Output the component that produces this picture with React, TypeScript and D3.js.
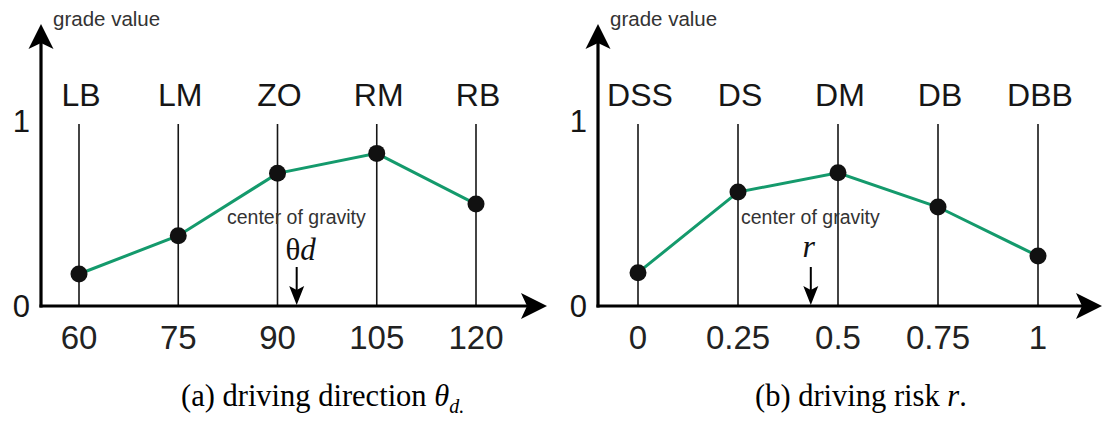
import React from "react";
import * as d3 from "d3";

// ---- data ----
const leftCategories = ["LB", "LM", "ZO", "RM", "RB"];
const leftTicks = [60, 75, 90, 105, 120];
const leftValues = [0.173, 0.38, 0.717, 0.825, 0.551];
const leftCentroid = 92.9;

const rightCategories = ["DSS", "DS", "DM", "DB", "DBB"];
const rightTicks = [0, 0.25, 0.5, 0.75, 1];
const rightTickLabels = ["0", "0.25", "0.5", "0.75", "1"];
const rightValues = [0.18, 0.616, 0.72, 0.535, 0.27];
const rightCentroid = 0.432;

const yTicks = [0, 1];

const SANS = "'Liberation Sans', Arial, sans-serif";
const SERIF = "'Liberation Serif', 'Times New Roman', serif";
const GREEN = "#149a6c";
const INK = "#161616";

type PanelProps = {
  axisX: number;
  axisEnd: number;
  xDomain: [number, number];
  xRange: [number, number];
  ticks: number[];
  tickLabels: string[];
  categories: string[];
  values: number[];
  centroid: number;
  centroidLabel: React.ReactNode;
  cogX: number;
  lineTop: number;
};

function Panel(p: PanelProps) {
  const x = d3.scaleLinear().domain(p.xDomain).range(p.xRange);
  const y = d3.scaleLinear().domain([0, 1]).range([306, 121]);
  const y0 = y(0);
  const pts = p.ticks.map((t, i) => [x(t), y(p.values[i])] as [number, number]);
  const line = d3.line()(pts) || "";
  const cx = x(p.centroid);
  const topY = 24;
  return (
    <g>
      {/* vertical category lines */}
      {p.ticks.map((t, i) => (
        <line key={"v" + i} x1={x(t)} x2={x(t)} y1={p.lineTop} y2={y0} stroke={INK} strokeWidth={1.6} />
      ))}
      {/* axes */}
      <line x1={p.axisX} x2={p.axisX} y1={topY + 18} y2={y0 + 1.5} stroke="#000" strokeWidth={3.2} />
      <path
        d={`M${p.axisX},${topY} L${p.axisX + 12.5},${topY + 25} L${p.axisX},${topY + 19} L${p.axisX - 12.5},${topY + 25} Z`}
        fill="#000"
      />
      <line x1={p.axisX - 1.5} x2={p.axisEnd - 18} y1={y0} y2={y0} stroke="#000" strokeWidth={3.2} />
      <path
        d={`M${p.axisEnd},${y0} L${p.axisEnd - 26},${y0 - 13} L${p.axisEnd - 20},${y0} L${p.axisEnd - 26},${y0 + 13} Z`}
        fill="#000"
      />
      <text x={p.axisX + 12} y={26} fontFamily={SANS} fontSize={20.5} fill="#333">grade value</text>
      {yTicks.map((t) => (
        <text key={"y" + t} x={p.axisX - 11} y={y(t) + 11} textAnchor="end" fontFamily={SANS} fontSize={31} fill={INK}>
          {String(t)}
        </text>
      ))}
      {/* category labels */}
      {p.categories.map((c, i) => (
        <text key={"c" + i} x={x(p.ticks[i]) + 2} y={106} textAnchor="middle" fontFamily={SANS} fontSize={32} fill={INK}>
          {c}
        </text>
      ))}
      {/* tick labels */}
      {p.tickLabels.map((l, i) => (
        <text key={"t" + i} x={x(p.ticks[i])} y={349} textAnchor="middle" fontFamily={SANS} fontSize={33} fill="#222">
          {l}
        </text>
      ))}
      {/* membership line */}
      <path d={line} fill="none" stroke={GREEN} strokeWidth={3} />
      {pts.map((pt, i) => (
        <circle key={"p" + i} cx={pt[0]} cy={pt[1]} r={8.5} fill="#111" />
      ))}
      {/* center of gravity */}
      <text x={p.cogX} y={224} fontFamily={SANS} fontSize={19.5} fill="#333">center of gravity</text>
      {p.centroidLabel}
      <line x1={cx} x2={cx} y1={267} y2={292} stroke="#000" strokeWidth={2} />
      <path d={`M${cx},${305} L${cx - 7.5},${286} L${cx},${290} L${cx + 7.5},${286} Z`} fill="#000" />
    </g>
  );
}

export default function App() {
  const xl = d3.scaleLinear().domain([60, 120]).range([79, 476]);
  const xr = d3.scaleLinear().domain([0, 1]).range([638, 1038]);
  return (
    <svg width={1102} height={421} style={{ position: "absolute", left: 0, top: 0, background: "#fff" }}>
      <rect width={1102} height={421} fill="#fff" />
      <Panel
        axisX={41}
        axisEnd={547}
        xDomain={[60, 120]}
        xRange={[79, 476]}
        ticks={leftTicks}
        tickLabels={leftTicks.map(String)}
        categories={leftCategories}
        values={leftValues}
        centroid={leftCentroid}
        cogX={227}
        lineTop={124}
        centroidLabel={
          <text x={xl(leftCentroid) + 4} y={260} textAnchor="middle" fontFamily={SERIF} fontSize={31} fill="#111">
            θ<tspan fontStyle="italic">d</tspan>
          </text>
        }
      />
      <Panel
        axisX={598}
        axisEnd={1102}
        xDomain={[0, 1]}
        xRange={[638, 1038]}
        ticks={rightTicks}
        tickLabels={rightTickLabels}
        categories={rightCategories}
        values={rightValues}
        centroid={rightCentroid}
        cogX={741}
        lineTop={124}
        centroidLabel={
          <text x={xr(rightCentroid) - 2} y={257} textAnchor="middle" fontFamily={SERIF} fontSize={32} fontStyle="italic" fill="#111">
            r
          </text>
        }
      />
      {/* captions */}
      <text x={181} y={406} fontFamily={SERIF} fontSize={30.5} fill="#000">
        (a) driving direction <tspan fontStyle="italic">θ</tspan>
        <tspan fontStyle="italic" fontSize={20} dy={7}>d.</tspan>
      </text>
      <text x={755} y={406} fontFamily={SERIF} fontSize={30.5} fill="#000">
        (b) driving risk <tspan fontStyle="italic">r</tspan>.
      </text>
    </svg>
  );
}
